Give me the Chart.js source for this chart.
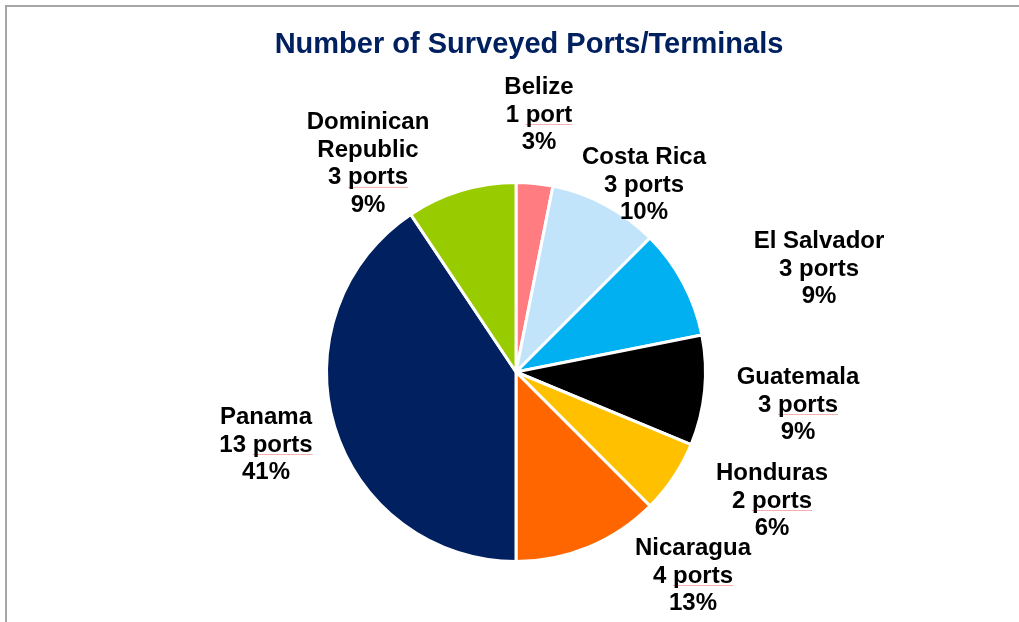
<!DOCTYPE html>
<html>
<head>
<meta charset="utf-8">
<title>Number of Surveyed Ports/Terminals</title>
<script src="https://cdn.jsdelivr.net/npm/chart.js@4.4.1/dist/chart.umd.min.js"></script>
<style>
    html, body { margin: 0; padding: 0; background: #fff; overflow: hidden; }
    .frame {
        position: absolute; left: 5px; top: 5px; width: 1100px; height: 700px;
        border: 2px solid #a6a6a6; box-sizing: border-box;
    }
    #portsChart { position: absolute; left: 0; top: 0; }
</style>
</head>
<body>
<div class="frame"></div>
<canvas id="portsChart" width="1019" height="622"></canvas>
<script>
const countries = ['Belize', 'Costa Rica', 'El Salvador', 'Guatemala', 'Honduras', 'Nicaragua', 'Panama', 'Dominican Republic'];
const ports = [1, 3, 3, 3, 2, 4, 13, 3];
const percents = ['3%', '10%', '9%', '9%', '6%', '13%', '41%', '9%'];
const colors = ['#ff7c80', '#c1e4fb', '#00b0f0', '#000000', '#ffc000', '#ff6600', '#002060', '#99cc00'];

const chartTitle = 'Number of Surveyed Ports/Terminals';
const FONT = '"Liberation Sans", Arial, sans-serif';

// label block centre, relative to the pie centre
const labelOffsets = [
    [23, -257], [128, -187], [303, -103], [282, 33],
    [256, 129], [177, 204], [-250, 73], [-148, -208]
];
// Word-wrapped country names
const nameLines = [['Belize'], ['Costa Rica'], ['El Salvador'], ['Guatemala'], ['Honduras'], ['Nicaragua'], ['Panama'], ['Dominican', 'Republic']];
// which labels get the spell-check squiggle under "ports"
const squiggle = [true, false, false, true, true, true, true, true];

const sliceLabels = {
    id: 'sliceLabels',
    afterDraw(chart) {
        const ctx = chart.ctx;
        const arc = chart.getDatasetMeta(0).data[0];
        const cx = arc.x, cy = arc.y;
        const lineH = 27.7;
        ctx.save();
        ctx.textAlign = 'center';
        ctx.textBaseline = 'middle';

        ctx.font = 'bold 29px ' + FONT;
        ctx.fillStyle = '#002060';
        ctx.fillText(chartTitle, 529, 45);

        ctx.font = 'bold 24px ' + FONT;
        ctx.fillStyle = '#000';
        countries.forEach((c, i) => {
            const portText = ports[i] + (ports[i] === 1 ? ' port' : ' ports');
            const lines = [...nameLines[i], portText, percents[i]];
            const x = cx + labelOffsets[i][0];
            const y0 = cy + labelOffsets[i][1] - (lines.length - 1) * lineH / 2;
            lines.forEach((t, j) => {
                const y = y0 + j * lineH;
                if (t === portText && squiggle[i]) {
                    const full = ctx.measureText(t).width;
                    const word = ctx.measureText(t.split(' ')[1]).width;
                    const x1 = x + full / 2;
                    ctx.strokeStyle = 'rgba(240, 120, 120, 0.6)';
                    ctx.lineWidth = 1;
                    ctx.beginPath();
                    ctx.moveTo(x1 - word, y + 9.5);
                    ctx.lineTo(x1, y + 9.5);
                    ctx.stroke();
                }
                ctx.fillText(t, x, y);
            });
        });
        ctx.restore();
    }
};

new Chart(document.getElementById('portsChart'), {
    type: 'pie',
    data: {
        labels: countries,
        datasets: [{
            data: ports,
            backgroundColor: colors,
            borderColor: '#ffffff',
            borderWidth: 3
        }]
    },
    options: {
        responsive: false,
        animation: false,
        layout: { padding: { top: 181, bottom: 59, left: 300, right: 287 } },
        plugins: {
            legend: { display: false },
            tooltip: { enabled: false },
            title: { display: false }
        }
    },
    plugins: [sliceLabels]
});
</script>
</body>
</html>
